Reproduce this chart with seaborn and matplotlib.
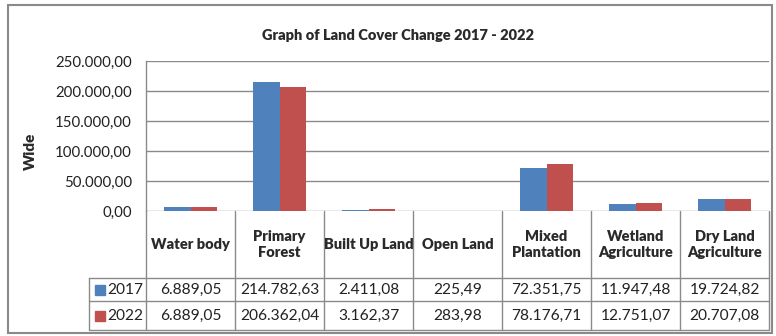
import matplotlib
matplotlib.use("Agg")
import matplotlib.pyplot as plt
import matplotlib.transforms as mtransforms
from matplotlib.lines import Line2D
from matplotlib.patches import Rectangle
import seaborn as sns
import pandas as pd

categories = ["Water body", "Primary Forest", "Built Up Land", "Open Land",
              "Mixed Plantation", "Wetland Agriculture", "Dry Land Agriculture"]
header_labels = ["Water body", "Primary\nForest", "Built Up Land", "Open Land",
                 "Mixed\nPlantation", "Wetland\nAgriculture", "Dry Land\nAgriculture"]
years = ["2017", "2022"]
values_2017 = [6889.05, 214782.63, 2411.08, 225.49, 72351.75, 11947.48, 19724.82]
values_2022 = [6889.05, 206362.04, 3162.37, 283.98, 78176.71, 12751.07, 20707.08]
yticks = [0, 50000, 100000, 150000, 200000, 250000]
colors = ["#4F81BD", "#C0504D"]

sns.set_theme(style="white")
plt.rcParams["font.family"] = ["Lato", "DejaVu Sans"]

def eu(v):
    s = f"{v:,.2f}"
    return s.replace(",", "X").replace(".", ",").replace("X", ".")

df = pd.DataFrame({
    "category": categories * 2,
    "year": [years[0]] * 7 + [years[1]] * 7,
    "value": values_2017 + values_2022,
})

W, H = 776, 336
fig = plt.figure(figsize=(W / 100, H / 100), dpi=100)
fig.patch.set_facecolor("white")
ax = fig.add_axes([146 / W, (H - 211) / H, (769 - 146) / W, 150 / H])

sns.barplot(data=df, x="category", y="value", hue="year", palette=colors,
            width=0.59, ax=ax, legend=False, saturation=1, edgecolor="none")
ax.set_xlim(-0.5, 6.5)
ax.set_ylim(0, 250000)
ax.set_yticks(yticks)
ax.set_yticklabels([eu(v) for v in yticks], fontsize=10.8, color="#222222")
ax.tick_params(axis="y", length=3, color="#888888", pad=7)
ax.set_xticks([])
ax.set_xlabel("")
ax.set_ylabel("")
for y in yticks:
    ax.axhline(y, color="#8a8a8a", lw=1.0, zorder=0)
for s in ["top", "right", "bottom"]:
    ax.spines[s].set_visible(False)
ax.spines["left"].set_color("#8a8a8a")
ax.spines["left"].set_linewidth(1.0)

bold_font = ["Lato", "DejaVu Sans"]

# Title and y label
fig.text(398 / W, 1 - 35 / H, "Graph of Land Cover Change 2017 - 2022",
         ha="center", va="center", fontsize=10.5, fontweight="heavy",
         family=bold_font, color="#2a2a2a")
fig.text(30 / W, 1 - 151 / H, "Wide", ha="center", va="center", rotation=90,
         fontsize=11, fontweight="heavy", family=bold_font, color="#2a2a2a")

# Data table
tr = mtransforms.blended_transform_factory(ax.transData, ax.transAxes)
y_head = (211 - 278) / 150
y_mid = (211 - 301) / 150
y_bot = (211 - 330) / 150
x_left = -0.5 - (146 - 89) / 89
lc = "#8a8a8a"

def line(xs, ys):
    ax.add_line(Line2D(xs, ys, transform=tr, color=lc, lw=1.0, clip_on=False))

for i in range(8):
    line([i - 0.5, i - 0.5], [0, y_bot])
line([x_left, x_left], [y_head, y_bot])
for yy in [y_head, y_mid, y_bot]:
    line([x_left, 6.5], [yy, yy])

for i, lab in enumerate(header_labels):
    ax.text(i, y_head / 2, lab, transform=tr, ha="center", va="center",
            fontsize=10.5, fontweight="heavy", family=bold_font,
            color="#2a2a2a", linespacing=1.35)

rows = [values_2017, values_2022]
row_y = [(y_head + y_mid) / 2, (y_mid + y_bot) / 2]
for r, (vals, yy) in enumerate(zip(rows, row_y)):
    for i, v in enumerate(vals):
        ax.text(i, yy, eu(v), transform=tr, ha="center", va="center",
                fontsize=11.2, color="#222222")
    ax.plot([x_left + 0.12], [yy], marker="s", markersize=7, color=colors[r],
            transform=tr, clip_on=False, linestyle="none")
    ax.text(x_left + 0.2, yy, years[r], transform=tr, ha="left", va="center",
            fontsize=11.2, color="#222222")

# Outer frame
fig.add_artist(Rectangle((8 / W, 1 - 333 / H), (772 - 8) / W, (333 - 5) / H,
                         transform=fig.transFigure, fill=False,
                         edgecolor="#8a8a8a", lw=1.5))

fig.savefig("out.png", dpi=100)
